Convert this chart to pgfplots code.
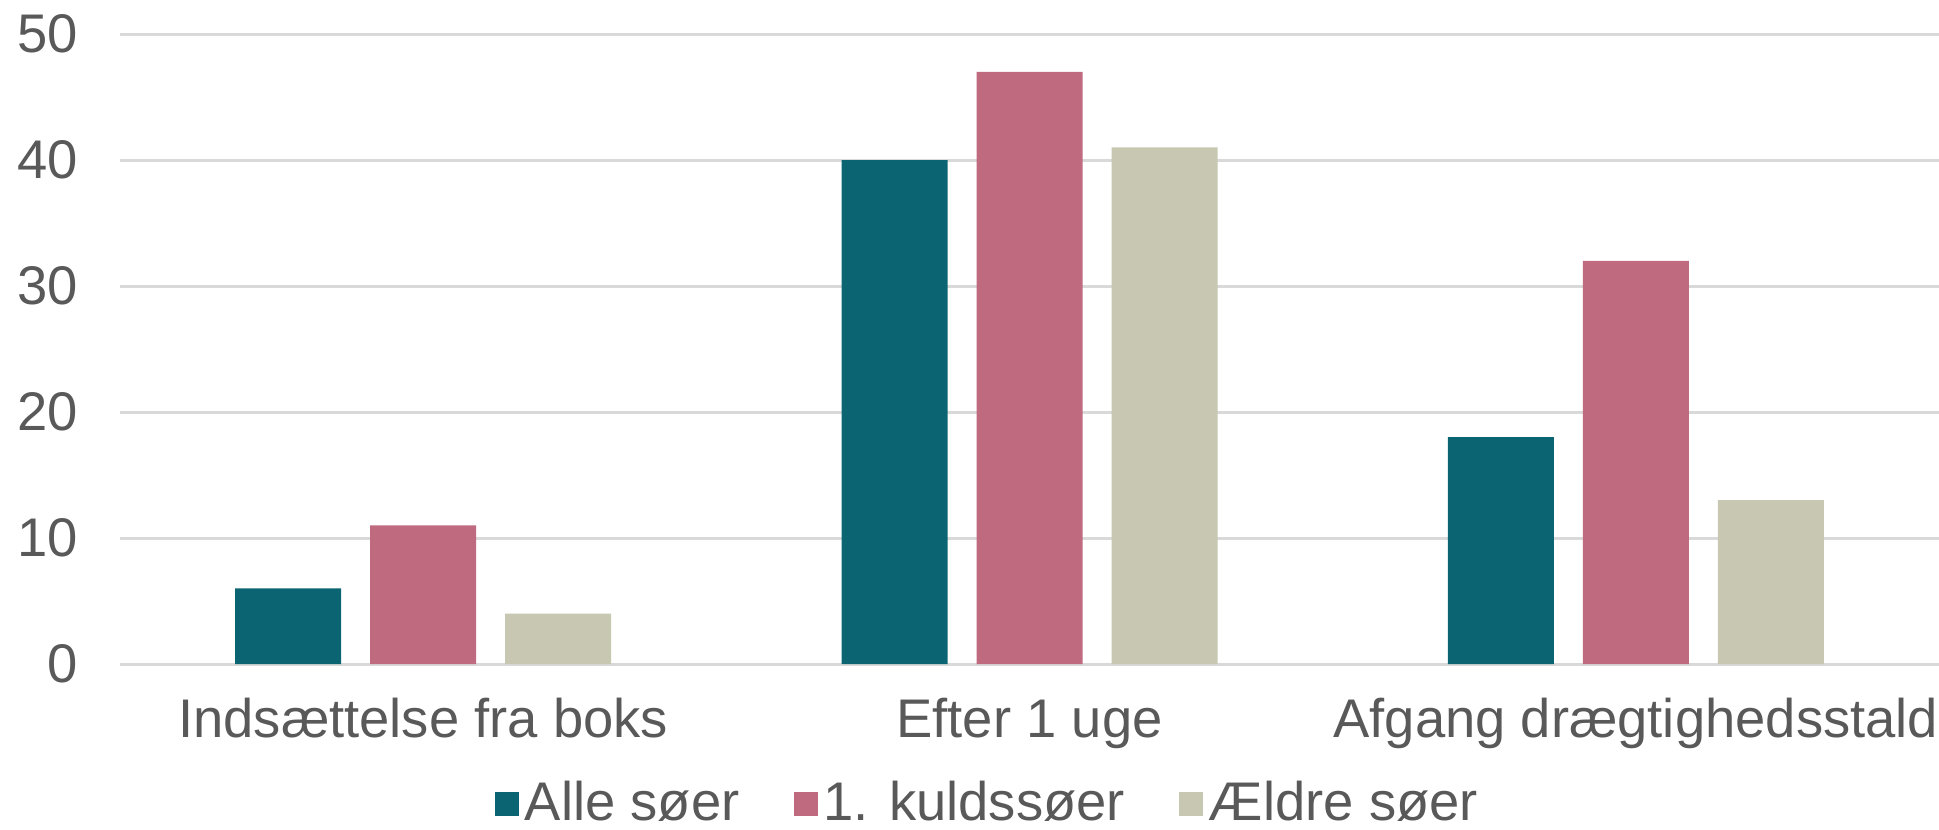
\documentclass[border=0pt]{standalone}
\usepackage{fontspec}
\setmainfont{Liberation Sans}
\usepackage{pgfplots}
\pgfplotsset{compat=1.18}

\definecolor{alle}{HTML}{0A6471}
\definecolor{kuld}{HTML}{C06A80}
\definecolor{aeldre}{HTML}{C8C7B1}
\definecolor{txt}{HTML}{595959}
\definecolor{gridc}{HTML}{D9D9D9}

\begin{document}
\begin{tikzpicture}
% 1 px of the reference = 0.25pt
\path[use as bounding box] (-30pt,-41.25pt) rectangle (454.75pt,166pt);
\begin{axis}[
    at={(0,0)}, anchor=south west,
    scale only axis, width=454.75pt, height=157.5pt,
    ybar=7.25pt, bar width=26.5pt,
    xmin=-0.5, xmax=2.5, ymin=0, ymax=50,
    xtick={0,1,2},
    xticklabels={Indsættelse fra boks, Efter 1 uge, Afgang drægtighedsstald},
    ytick={0,10,...,50},
    axis line style={draw=none},
    xmajorgrids=false, ymajorgrids=true,
    grid style={draw=gridc, line width=0.75pt},
    major tick length=0pt,
    tick label style={font=\fontsize{13.6}{16}\selectfont, text=txt},
    yticklabel style={xshift=-7pt},
    xticklabel style={yshift=-5pt},
    /pgf/number format/assume math mode=true,
    legend columns=-1,
    legend style={at={(0.478,-0.222)}, anchor=center, draw=none, fill=none,
        font=\fontsize{13.6}{16}\selectfont, text=txt, inner sep=0pt,
        nodes={inner sep=1.5pt},
        /tikz/every even column/.append style={column sep=12pt}},
    legend image code/.code={\fill[#1] (0pt,-3pt) rectangle (6pt,3pt);},
]
\addplot[draw=none, fill=alle] coordinates {(0,6) (1,40) (2,18)};
\addplot[draw=none, fill=kuld] coordinates {(0,11) (1,47) (2,32)};
\addplot[draw=none, fill=aeldre] coordinates {(0,4) (1,41) (2,13)};
\legend{Alle søer, 1. kuldssøer, Ældre søer}
\end{axis}
\end{tikzpicture}
\end{document}
